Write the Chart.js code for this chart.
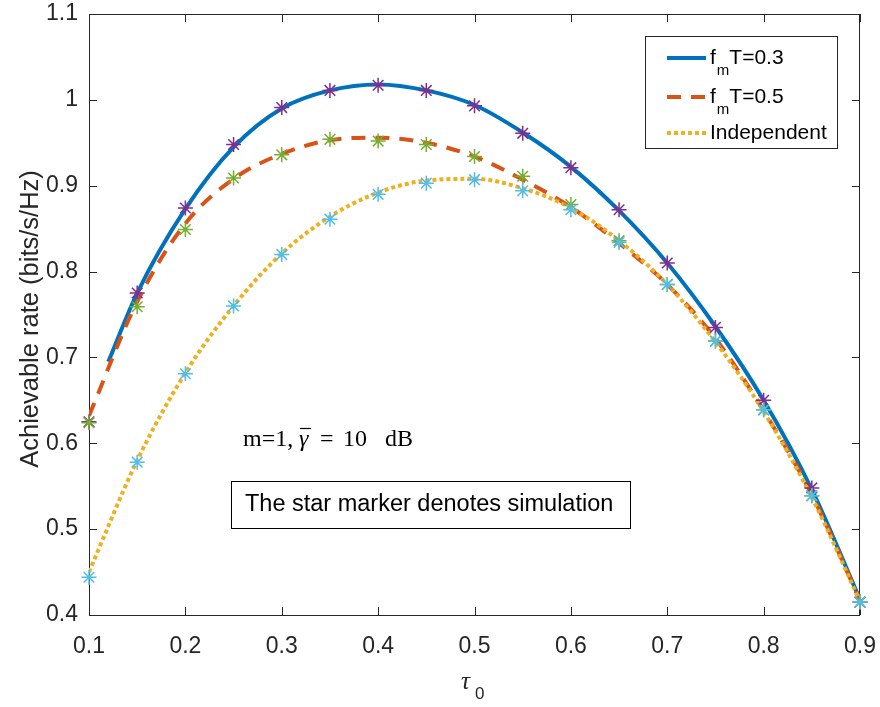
<!DOCTYPE html>
<html>
<head>
<meta charset="utf-8">
<script src="https://cdn.jsdelivr.net/npm/chart.js@4.4.1/dist/chart.umd.min.js"></script>
<style>
  html, body { margin: 0; padding: 0; background: #fff; }
  #wrap { width: 880px; height: 707px; position: relative; }
</style>
</head>
<body>
<div id="wrap"><canvas id="myChart" width="880" height="707"></canvas></div>
<script>
// tau_0 values where the simulation stars sit
const tauSim = [0.1, 0.15, 0.2, 0.25, 0.3, 0.35, 0.4, 0.45, 0.5, 0.55, 0.6, 0.65, 0.7, 0.75, 0.8, 0.85, 0.9]

// analytical curves
const tauFast = [0.12, 0.15, 0.2, 0.25, 0.3, 0.35, 0.4, 0.45, 0.5, 0.55, 0.6, 0.65, 0.7, 0.75, 0.8, 0.85, 0.9]
const rateFast = [0.695, 0.775, 0.873, 0.945, 0.990, 1.011, 1.018, 1.011, 0.994, 0.962, 0.922, 0.871, 0.810, 0.736, 0.650, 0.546, 0.418]
const tauSlow = tauSim
const rateSlow = [0.632, 0.765, 0.856, 0.908, 0.937, 0.953, 0.956, 0.950, 0.934, 0.907, 0.875, 0.833, 0.785, 0.722, 0.638, 0.540, 0.417]
const tauIndep = tauSim
const rateIndep = [0.450, 0.580, 0.682, 0.760, 0.821, 0.864, 0.892, 0.906, 0.908, 0.897, 0.874, 0.836, 0.785, 0.718, 0.637, 0.537, 0.416]

// simulation points (star markers)
const simFast = [0.625, 0.775, 0.874, 0.948, 0.991, 1.011, 1.017, 1.011, 0.993, 0.961, 0.921, 0.872, 0.810, 0.735, 0.650, 0.548, 0.415]
const simSlow = [0.624, 0.759, 0.849, 0.909, 0.936, 0.954, 0.952, 0.948, 0.934, 0.911, 0.878, 0.836, 0.785, 0.719, 0.639, 0.539, 0.415]
const simIndep = [0.444, 0.578, 0.681, 0.760, 0.820, 0.861, 0.890, 0.903, 0.907, 0.894, 0.872, 0.834, 0.785, 0.719, 0.639, 0.539, 0.415]

const xTicks = [0.1, 0.2, 0.3, 0.4, 0.5, 0.6, 0.7, 0.8, 0.9]
const yTicks = [0.4, 0.5, 0.6, 0.7, 0.8, 0.9, 1, 1.1]

const legendNames = [['f', 'm', 'T=0.3'], ['f', 'm', 'T=0.5'], ['Independent']]

const BLUE = '#0072BD', ORANGE = '#D95319', YELLOW = '#EDB120'
const PURPLE = '#7E2F8E', GREEN = '#77AC30', LBLUE = '#4DBEEE'
const AXIS = '#262626'
const SANS = '"Liberation Sans", Arial, sans-serif'
const SERIF = '"Liberation Serif", "DejaVu Serif", serif'

let pts = (xs, ys) => xs.map((x, i) => ({ x: x, y: ys[i] }))

let lineSet = (xs, ys, color, dash, order) => ({
  data: pts(xs, ys),
  borderColor: color,
  borderWidth: 4,
  borderDash: dash,
  borderCapStyle: 'butt',
  pointRadius: 0,
  fill: false,
  cubicInterpolationMode: 'monotone',
  order: order
})

let starSet = (ys, color, order) => ({
  data: pts(tauSim, ys),
  showLine: false,
  clip: false,
  pointStyle: 'star',
  pointRadius: 7.5,
  borderColor: color,
  backgroundColor: color,
  pointBorderWidth: 1.5,
  order: order
})

// boxed axes with inward ticks, legend and text notes
const decorations = {
  id: 'decorations',
  beforeDatasetsDraw(chart) {
    const ctx = chart.ctx
    const a = chart.chartArea
    const xs = chart.scales.x, ys = chart.scales.y
    ctx.save()
    ctx.strokeStyle = AXIS
    ctx.lineWidth = 1
    ctx.strokeRect(a.left + 0.5, a.top + 0.5, a.right - a.left - 1, a.bottom - a.top)
    ctx.beginPath()
    xTicks.forEach(v => {
      const px = Math.round(xs.getPixelForValue(v)) + 0.5
      ctx.moveTo(px, a.bottom); ctx.lineTo(px, a.bottom - 8)
      ctx.moveTo(px, a.top); ctx.lineTo(px, a.top + 8)
    })
    yTicks.forEach(v => {
      const py = Math.round(ys.getPixelForValue(v)) + 0.5
      ctx.moveTo(a.left, py); ctx.lineTo(a.left + 8, py)
      ctx.moveTo(a.right, py); ctx.lineTo(a.right - 8, py)
    })
    ctx.stroke()
    ctx.restore()
  },
  afterDraw(chart) {
    const ctx = chart.ctx
    const a = chart.chartArea
    ctx.save()

    // legend
    const lx = a.right - 215, ly = a.top + 22, lw = 192, lh = 112
    ctx.fillStyle = '#fff'
    ctx.fillRect(lx, ly, lw, lh)
    ctx.strokeStyle = AXIS
    ctx.lineWidth = 1
    ctx.strokeRect(lx + 0.5, ly + 0.5, lw, lh)
    const rows = [22, 61, 97]
    const styles = [[BLUE, []], [ORANGE, [14, 10]], [YELLOW, [4, 3]]]
    legendNames.forEach((parts, i) => {
      const y = ly + rows[i]
      ctx.strokeStyle = styles[i][0]
      ctx.lineWidth = 4
      ctx.setLineDash(styles[i][1])
      ctx.beginPath(); ctx.moveTo(lx + 22, y); ctx.lineTo(lx + 61, y); ctx.stroke()
      ctx.setLineDash([])
      ctx.fillStyle = '#000'
      ctx.textBaseline = 'middle'
      let tx = lx + 65
      if (parts.length === 3) {
        ctx.font = '21px ' + SANS
        ctx.fillText(parts[0], tx, y); tx += ctx.measureText(parts[0]).width + 1
        ctx.font = '15px ' + SANS
        ctx.fillText(parts[1], tx, y + 13); tx += ctx.measureText(parts[1]).width
        ctx.font = '21px ' + SANS
        ctx.fillText(parts[2], tx, y)
      } else {
        ctx.font = '21px ' + SANS
        ctx.fillText(parts[0], tx, y)
      }
    })

    // parameter note
    ctx.fillStyle = '#000'
    ctx.textBaseline = 'middle'
    const ny = 440
    ctx.font = '24px ' + SERIF
    ctx.fillText('m=1,', 243, ny)
    ctx.font = 'italic 24px ' + SERIF
    ctx.fillText('\u03b3', 299, ny)
    ctx.lineWidth = 1.2
    ctx.strokeStyle = '#000'
    ctx.beginPath(); ctx.moveTo(300, ny - 11.5); ctx.lineTo(311, ny - 11.5); ctx.stroke()
    ctx.font = '24px ' + SERIF
    ctx.fillText('=', 320, ny)
    ctx.fillText('10', 343, ny)
    ctx.fillText('dB', 385, ny)

    // simulation note box
    ctx.strokeStyle = '#000'
    ctx.lineWidth = 1
    ctx.strokeRect(231.5, 481.5, 399, 47)
    ctx.font = '23.5px ' + SANS
    ctx.fillText('The star marker denotes simulation', 245, 505)

    // axis titles
    ctx.fillStyle = AXIS
    ctx.save()
    ctx.translate(31, 319)
    ctx.rotate(-Math.PI / 2)
    ctx.textAlign = 'center'
    ctx.font = '25.5px ' + SANS
    ctx.fillText('Achievable rate (bits/s/Hz)', 0, 0)
    ctx.restore()
    ctx.font = 'italic 25px ' + SERIF
    ctx.fillText('\u03c4', 461, 682)
    ctx.font = '17px ' + SANS
    ctx.fillText('0', 475, 694)
    ctx.restore()
  }
}

let createChart = () => {
  const ctx = document.getElementById('myChart')
  return new Chart(ctx, {
    type: 'line',
    data: {
      datasets: [
        lineSet(tauFast, rateFast, BLUE, [], 6),
        lineSet(tauSlow, rateSlow, ORANGE, [14, 10], 5),
        lineSet(tauIndep, rateIndep, YELLOW, [4, 3], 4),
        starSet(simFast, PURPLE, 3),
        starSet(simSlow, GREEN, 2),
        starSet(simIndep, LBLUE, 1)
      ]
    },
    options: {
      responsive: false,
      animation: false,
      events: [],
      layout: { padding: { top: 14, right: 20, left: 0, bottom: 0 } },
      plugins: { legend: { display: false }, tooltip: { enabled: false } },
      scales: {
        x: {
          type: 'linear',
          min: 0.1,
          max: 0.9,
          afterFit: s => { s.height = 92; s.paddingLeft = 0; s.paddingRight = 0 },
          afterBuildTicks: s => { s.ticks = xTicks.map(v => ({ value: v })) },
          grid: { display: false, drawTicks: false },
          border: { display: false },
          ticks: {
            padding: 18,
            color: AXIS,
            font: { family: SANS, size: 23 },
            maxRotation: 0,
            callback: v => v.toFixed(1)
          }
        },
        y: {
          type: 'linear',
          min: 0.4,
          max: 1.1,
          afterFit: s => { s.width = 89; s.paddingTop = 0; s.paddingBottom = 0 },
          afterBuildTicks: s => { s.ticks = yTicks.map(v => ({ value: v })) },
          grid: { display: false, drawTicks: false },
          border: { display: false },
          ticks: {
            padding: 11,
            color: AXIS,
            font: { family: SANS, size: 23 },
            callback: v => String(+v.toFixed(2))
          }
        }
      }
    },
    plugins: [decorations]
  })
}

createChart()
</script>
</body>
</html>
